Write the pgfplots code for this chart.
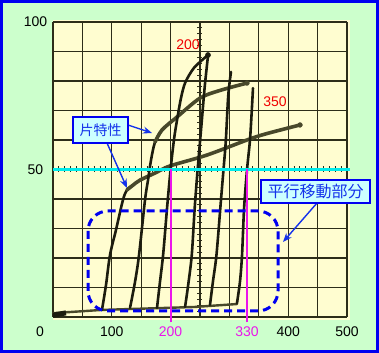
\documentclass[border=0pt]{standalone}
\usepackage{pgfplots}
\pgfplotsset{compat=1.18}
\usepackage{fontspec}
\setmainfont{Liberation Sans}
\newfontfamily\jp{Noto Sans CJK JP}
\usetikzlibrary{arrows.meta}
\definecolor{bggreen}{RGB}{204,255,204}
\definecolor{frameblue}{RGB}{0,0,240}
\definecolor{paper}{RGB}{255,253,208}
\definecolor{gridc}{RGB}{45,45,25}
\definecolor{curvec}{RGB}{28,28,14}
\definecolor{gentlec}{RGB}{72,72,42}
\definecolor{cyanl}{RGB}{0,235,235}
\definecolor{mag}{RGB}{235,20,235}
\definecolor{txtblue}{RGB}{20,50,235}
\definecolor{boxfill}{RGB}{204,255,255}
\definecolor{redl}{RGB}{240,0,0}
\begin{document}
\begin{tikzpicture}
\fill[bggreen] (-53bp,-36bp) rectangle (326bp,317bp);
\fill[paper] (0bp,-3bp) rectangle (297bp,297bp);
\begin{axis}[at={(0,0)}, anchor=origin,
  x=0.588bp, y=2.95bp,
  xmin=0, xmax=500, ymin=0, ymax=100,
  clip=false,
  axis line style={draw=none},
  major tick length=0pt, minor tick length=0pt,
  xtick={100,200,330,400,500},
  xticklabels={100,\textcolor{mag}{200},\textcolor{mag}{330},400,500},
  ytick={50,100}, yticklabels={50,100},
  minor xtick={0,50,...,500}, minor ytick={0,10,...,100},
  xminorgrids=true, yminorgrids=true,
  xmajorgrids=false, ymajorgrids=false,
  minor grid style={gridc, line width=1.3bp},
  xticklabel style={anchor=center, yshift=-14.5bp, font=\fontsize{14bp}{16bp}\selectfont},
  yticklabel style={anchor=center, xshift=-17.5bp, font=\fontsize{14bp}{16bp}\selectfont},
  curve/.style={curvec, line width=2.6bp, line cap=round, line join=round, smooth, tension=0.5},
  gentle/.style={gentlec, line width=3.6bp, line cap=round, line join=round, smooth, tension=0.5},
]
% tick decorations on the graph paper
\addplot[gridc, line width=6bp, dash pattern=on 1bp off 4.88bp, dash phase=0.5bp, forget plot] coordinates {(0,50) (505,50)};
\addplot[gridc, line width=5bp, dash pattern=on 1bp off 4.9bp, dash phase=0.5bp, forget plot] coordinates {(250,0) (250,100)};
% baseline
\addplot[gentlec, line width=2.4bp, line cap=round] coordinates {(0,1.3) (83,2.4) (241,3.4) (313,4.4)};
\addplot[curvec, line width=5bp] coordinates {(0,0.6) (22,1.4)};
% curve 1 (lower knee)
\addplot[curve] coordinates {(83.3,2.4) (90.1,10.8) (96.9,21.0) (107.1,29.5) (119.0,39.7) (125.9,43.1) (136.1,44.7)};
\addplot[gentle] coordinates {(125.9,43.1) (136.1,44.7) (148.0,46.4) (173.5,48.8) (199.0,51.2) (261.9,54.9) (329.9,60.0) (360.5,62.0) (420.1,65.1)};
% curve 2 (upper knee)
\addplot[curve] coordinates {(131.0,3.1) (139.5,11.9) (146.3,21.0) (156.5,39.7) (161.6,46.4) (166.7,53.2) (173.5,59.3) (185.4,63.4)};
\addplot[gentle] coordinates {(173.5,59.3) (185.4,63.4) (210.9,67.8) (250.0,74.2) (284.0,76.8) (329.9,79.3)};
% curve 3
\addplot[curve] coordinates {(176.9,3.1) (182,12) (187.5,21.5) (194,37) (200,50) (206,60.5) (212,68) (218,74.5) (225,79.5) (240,84.5) (263.6,88.8)};
% curve 4
\addplot[curve] coordinates {(224.6,3.4) (230,11) (236,21) (241,37) (246,50) (252,64) (258,78) (263.6,88.5)};
% curve 5
\addplot[curve] coordinates {(267,4.1) (272,12) (278,21) (285,38) (290,50) (294,60) (298,75) (302.7,83.1)};
% curve 6
\addplot[curve] coordinates {(312.9,4.7) (318,12) (321.5,21) (325,37) (330,50) (335,60) (338.4,71.2) (340.1,77.6)};
% end blobs
\addplot[only marks, mark=*, mark size=2.6bp, curvec] coordinates {(263.6,88.8)};
\addplot[only marks, mark=*, mark size=2.4bp, gentlec] coordinates {(329.9,79.3) (420.1,65.1)};
% reference lines
\addplot[cyanl, line width=2.4bp] coordinates {(0,50) (505,50)};
\addplot[mag, line width=2bp] coordinates {(200,-1.8) (200,50)};
\addplot[mag, line width=2bp] coordinates {(330,-1.8) (330,50)};
\end{axis}
% dashed rounded region
\draw[frameblue, line width=3bp, dash pattern=on 8bp off 5bp, rounded corners=20bp] (35bp,6bp) rectangle (225bp,106bp);
% labels
\node[redl, font=\fontsize{14bp}{16bp}\selectfont] at (135bp,272bp) {200};
\node[redl, font=\fontsize{14bp}{16bp}\selectfont] at (222bp,215bp) {350};
\node[font=\fontsize{14bp}{16bp}\selectfont] at (-13bp,-14.5bp) {0};
% arrows
\draw[txtblue, line width=1.4bp, -{Stealth[length=9bp,width=7bp]}] (75bp,192bp) -- (99bp,184bp);
\draw[txtblue, line width=1.4bp, -{Stealth[length=9bp,width=7bp]}] (54bp,174bp) -- (74bp,129bp);
\draw[txtblue, line width=1.4bp, -{Stealth[length=9bp,width=7bp]}] (264bp,114bp) -- (230bp,75bp);
% callout boxes
\node[draw=frameblue, line width=1.2bp, fill=boxfill, text=txtblue, minimum width=55bp, minimum height=26bp, inner sep=0pt, font=\jp\fontsize{14bp}{16bp}\selectfont] at (47.5bp,187bp) {片特性};
\node[draw=frameblue, line width=1.2bp, fill=boxfill, text=txtblue, minimum width=109bp, minimum height=23bp, inner sep=0pt, font=\jp\fontsize{16bp}{18bp}\selectfont] at (262.5bp,125.5bp) {平行移動部分};
% frame
\draw[frameblue, line width=2.6bp] (-51.7bp,-34.7bp) rectangle (324.7bp,315.7bp);
\pgfresetboundingbox
\path[use as bounding box] (-53bp,-36bp) rectangle (326bp,317bp);
\end{tikzpicture}
\end{document}
